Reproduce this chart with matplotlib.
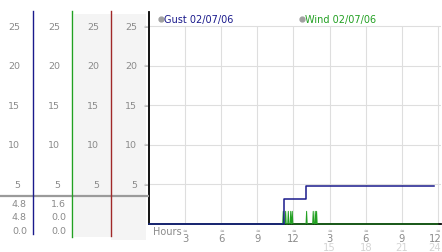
import matplotlib.pyplot as plt
from matplotlib.patches import Rectangle
from matplotlib.transforms import blended_transform_factory

# chart values
y_levels = [5, 10, 15, 20, 25]
hour_ticks = [3, 6, 9, 12, 15, 18, 21, 24]
hour_labels = ["3", "6", "9", "12", "3", "6", "9", "12"]
pm_ticks = [15, 18, 21, 24]
pm_labels = ["15", "18", "21", "24"]

gust_hours = [0, 11.2, 13.0, 23.65]
gust_speed = [0, 3.2, 4.8, 4.8]

wind_spike_hours = [11.15, 11.35, 11.57, 11.77, 11.9, 13.09, 13.64, 13.81, 13.92]
wind_spike_speed = [1.6, 1.6, 1.6, 1.6, 1.6, 1.6, 1.6, 1.6, 1.6]
wind_last_hour = 24

gust_stats = ["4.8", "4.8", "0.0"]
wind_stats = ["1.6", "0.0", "0.0"]

gust_label = "Gust 02/07/06"
wind_label = "Wind 02/07/06"

NAVY = "#1a1a8c"
GREEN = "#22a022"
RED = "#a02828"
GRAY_TXT = "#8a8a8a"
GRID = "#dedede"

W, H = 442, 253
fig = plt.figure(figsize=(W / 100, H / 100), dpi=100)

# main plot: x 149..441 px, y 13..225 px
ax = fig.add_axes([149 / W, 1 - 225 / H, 292 / W, 212 / H])
ax.set_xlim(0, 292 / 12.04)
ax.set_ylim(0, 212 / 7.92)

# left panel in pixel coordinates (y down)
axl = fig.add_axes([0, 0, 149 / W, 1])
axl.set_xlim(0, 149)
axl.set_ylim(H, 0)
axl.axis("off")

row = blended_transform_factory(axl.transData, ax.transData)   # x px, y value
col = blended_transform_factory(ax.transData, axl.transData)   # x hour, y px

# grid
ax.hlines(y_levels, 0, ax.get_xlim()[1], color=GRID, lw=0.8, zorder=1)
ax.vlines(hour_ticks, 0, 25, color=GRID, lw=0.8, zorder=1)

# wind series: zero baseline with narrow spikes
wind_hours, wind_speed = [0], [0]
for h, v in zip(wind_spike_hours, wind_spike_speed):
    wind_hours += [h - 0.05, h, h + 0.05]
    wind_speed += [0, v, 0]
wind_hours.append(wind_last_hour)
wind_speed.append(0)

ax.plot(wind_hours, wind_speed, color=GREEN, lw=0.7, clip_on=False, zorder=3)
ax.plot(gust_hours, gust_speed, color=NAVY, lw=1.1, drawstyle="steps-post",
        clip_on=False, zorder=4)

for s in ["top", "right"]:
    ax.spines[s].set_visible(False)
for s in ["left", "bottom"]:
    ax.spines[s].set_color("black")
    ax.spines[s].set_linewidth(1.3)
ax.set_xticks([])
ax.set_yticks([])

# left panel backgrounds and column lines
axl.add_patch(Rectangle((74, 15), 37, 223, color="#f4f4f4", lw=0, zorder=0))
axl.add_patch(Rectangle((111, 15), 35, 226, color="#f4f4f4", lw=0, zorder=0))
axl.plot([0, 149], [197, 197], color="#9a9a9a", lw=1.6, zorder=2)
axl.plot([33, 33], [12, 235], color=NAVY, lw=1.0, zorder=3)
axl.plot([72, 72], [12, 238], color=GREEN, lw=1.0, zorder=3)
axl.plot([111, 111], [12, 237], color=RED, lw=1.0, zorder=3)

# value labels in each column
for xr in [20, 60, 99, 137]:
    for v in y_levels:
        axl.text(xr, v, str(v), transform=row, ha="right", va="center",
                 fontsize=6.8, color=GRAY_TXT)
for v in y_levels:
    axl.text(146, v, "≈", transform=row, ha="center", va="center",
             fontsize=4, color="#999999")

for xr, stats in [(27, gust_stats), (66, wind_stats)]:
    for yp, s in zip([205, 218, 232], stats):
        axl.text(xr, yp, s, ha="right", va="center", fontsize=6.8,
                 color=GRAY_TXT)

# x axis labels (last column pulled in so it stays on the canvas)
for h, lab in zip(hour_ticks, hour_labels):
    ax.text(h, 231, "≈", transform=col, ha="center", va="center",
            fontsize=4, color="#999999")
    ax.text(min(h, 23.75), 239, lab, transform=col, ha="center", va="center",
            fontsize=7.2, color=GRAY_TXT)
for h, lab in zip(pm_ticks, pm_labels):
    ax.text(min(h, 23.75), 248, lab, transform=col, ha="center", va="center",
            fontsize=7.2, color="#d4d4d4")
axl.text(153, 232, "Hours", ha="left", va="center", fontsize=7,
         color=GRAY_TXT)

# legend
axl.plot([160.5], [20], "o", ms=3.5, color="#a0a0a0", clip_on=False)
axl.text(164, 20, gust_label, ha="left", va="center", fontsize=7, color=NAVY)
axl.plot([301.5], [20], "o", ms=3.5, color="#a0a0a0", clip_on=False)
axl.text(305, 20, wind_label, ha="left", va="center", fontsize=7, color=GREEN)

fig.savefig("out.png", dpi=100)
